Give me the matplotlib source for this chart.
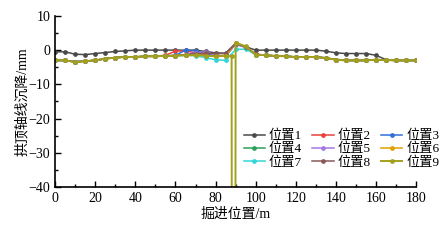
import matplotlib
matplotlib.use("Agg")
import matplotlib.pyplot as plt
from matplotlib.ticker import MultipleLocator

plt.rcParams['font.family'] = ['Liberation Serif', 'Noto Sans CJK SC']
plt.rcParams['axes.unicode_minus'] = True

# excavation position (m), every 5 m
x = list(range(0, 185, 5))

s1 = [-0.5, -0.5, -1.2, -1.3, -1.0, -0.7, -0.4, -0.2, 0.0, 0.0, 0.0, 0.0, 0.0, 0.0, 0.0, -0.4, -0.8, -0.9,
      2.0, 1.0, 0.0, 0.0, 0.0, 0.0, 0.0, 0.0, 0.0, -0.3, -0.8, -1.0, -1.0, -1.0, -1.5, -2.8, -3.0, -3.0, -3.0]
s2 = [-3.0, -3.0, -3.4, -3.2, -3.0, -2.5, -2.2, -2.0, -2.0, -1.8, -1.8, -1.5, -0.3, -0.2, -0.8, -1.5, -1.7, -1.6,
      1.8, 0.9, -1.2, -1.5, -1.7, -1.8, -2.0, -2.0, -2.0, -2.3, -2.8, -3.0, -3.0, -3.0, -2.8, -2.9, -3.0, -3.0, -3.0]
s3 = [-3.0, -3.0, -3.4, -3.2, -3.0, -2.5, -2.2, -2.0, -2.0, -1.8, -1.8, -1.7, -1.5, 0.0, -0.2, -1.0, -1.7, -1.8,
      1.8, 0.8, -1.3, -1.5, -1.7, -1.8, -2.0, -2.0, -2.0, -2.3, -2.8, -3.0, -3.0, -3.0, -2.8, -2.9, -3.0, -3.0, -3.0]
s4 = [-3.0, -3.0, -3.5, -3.2, -3.0, -2.5, -2.2, -2.0, -2.0, -1.8, -1.8, -1.7, -1.6, -1.5, -1.5, -1.6, -1.8, -1.6,
      1.9, 1.0, -1.3, -1.5, -1.7, -1.8, -2.0, -2.0, -2.0, -2.3, -2.8, -3.0, -3.0, -3.0, -2.8, -2.9, -3.0, -3.0, -3.0]
s5 = [-3.0, -3.0, -3.4, -3.2, -3.0, -2.5, -2.2, -2.0, -2.0, -1.8, -1.8, -1.7, -1.6, -1.3, -0.8, -0.5, -1.5, -1.7,
      1.7, 0.8, -1.3, -1.5, -1.7, -1.8, -2.0, -2.0, -2.0, -2.3, -2.8, -3.0, -3.0, -3.0, -2.8, -2.9, -3.0, -3.0, -3.0]
s6 = [-3.0, -3.0, -3.5, -3.2, -3.0, -2.5, -2.2, -2.0, -2.0, -1.8, -1.8, -1.7, -1.6, -1.5, -1.5, -1.6, -1.8, -1.7,
      2.0, 1.0, -1.3, -1.5, -1.7, -1.8, -2.0, -2.0, -2.0, -2.3, -2.8, -3.0, -3.0, -3.0, -2.8, -2.9, -3.0, -3.0, -3.0]
s7 = [-3.0, -3.0, -3.4, -3.2, -3.0, -2.5, -2.2, -2.0, -2.0, -1.8, -1.8, -1.7, -1.6, -1.5, -1.6, -2.2, -2.8, -3.0,
      0.2, 0.3, -1.3, -1.5, -1.7, -1.8, -2.0, -2.0, -2.0, -2.3, -2.8, -3.0, -3.0, -3.0, -2.8, -2.9, -3.0, -3.0, -3.0]
s8 = [-3.0, -3.0, -3.4, -3.2, -3.0, -2.5, -2.2, -2.0, -2.0, -1.8, -1.8, -1.7, -1.6, -1.3, -1.0, -0.9, -1.0, -1.0,
      1.9, 1.0, -1.2, -1.5, -1.7, -1.8, -2.0, -2.0, -2.0, -2.3, -2.8, -3.0, -3.0, -3.0, -2.8, -2.9, -3.0, -3.0, -3.0]

# position 9 has the sharp drop just before 90 m
x9 = [0, 5, 10, 15, 20, 25, 30, 35, 40, 45, 50, 55, 60, 65, 70, 75, 80, 85, 88, 89, 90,
      95, 100, 105, 110, 115, 120, 125, 130, 135, 140, 145, 150, 155, 160, 165, 170, 175, 180]
s9 = [-3.0, -3.0, -3.5, -3.2, -3.0, -2.5, -2.2, -2.0, -2.0, -1.8, -1.8, -1.7, -1.6, -1.5, -1.5, -1.6, -1.8, -1.6,
      -1.8, -600.0, 2.2, 1.1, -1.3, -1.5, -1.7, -1.8, -2.0, -2.0, -2.0, -2.3, -2.8, -3.0, -3.0, -3.0, -2.8, -2.9,
      -3.0, -3.0, -3.0]

labels = ["位置1", "位置2", "位置3", "位置4", "位置5", "位置6", "位置7", "位置8", "位置9"]
colors = ["#4a4a4a", "#e8413b", "#2f6fd8", "#2ca05a", "#a578e6", "#e0a000", "#33d6d6", "#8a5858", "#a3a01e"]

fig = plt.figure(figsize=(4.45, 2.41), dpi=100)
ax = fig.add_axes([0.124, 0.224, 0.811, 0.71])

series = [s1, s2, s3, s4, s5, s6, s7, s8]
handles = []
for i, s in enumerate(series):
    h, = ax.plot(x, s, color=colors[i], marker='o', ms=2.4, lw=1.1, label=labels[i])
    handles.append(h)
h, = ax.plot(x9, s9, color=colors[8], marker='o', ms=2.4, lw=1.4, label=labels[8])
handles.append(h)

ax.set_xlim(0, 180)
ax.set_ylim(-40, 10)
ax.xaxis.set_major_locator(MultipleLocator(20))
ax.xaxis.set_minor_locator(MultipleLocator(10))
ax.yaxis.set_major_locator(MultipleLocator(10))
ax.yaxis.set_minor_locator(MultipleLocator(5))
ax.tick_params(which='both', direction='in', labelsize=10, width=1)
ax.tick_params(which='major', length=4)
ax.tick_params(which='minor', length=2)
ax.spines['top'].set_visible(False)
ax.spines['right'].set_visible(False)
for sp in ['left', 'bottom']:
    ax.spines[sp].set_linewidth(1.2)

ax.set_xlabel("掘进位置/m", fontsize=10, labelpad=2)
ax.set_ylabel("拱顶轴线沉降/mm", fontsize=10, labelpad=0)

# row-major legend order: matplotlib fills columns first
order = [0, 3, 6, 1, 4, 7, 2, 5, 8]
ax.legend([handles[k] for k in order], [labels[k] for k in order],
          loc='upper left', bbox_to_anchor=(0.5, 0.38), ncol=3, frameon=False, fontsize=9.5,
          handlelength=1.6, handletextpad=0.3, columnspacing=0.8, labelspacing=0.05, borderpad=0.1)

fig.savefig("out.png", dpi=100)
